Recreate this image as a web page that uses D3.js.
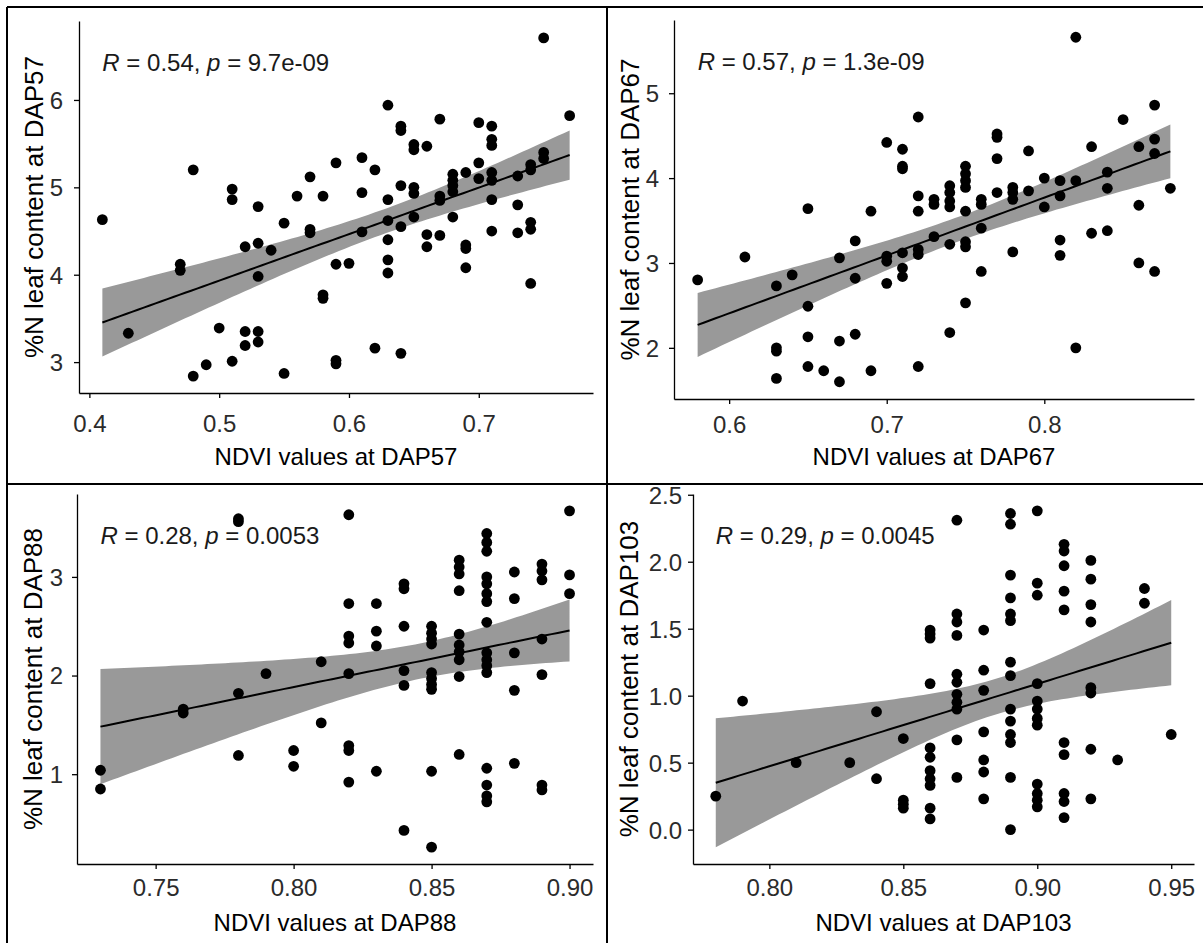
<!DOCTYPE html>
<html>
<head>
<meta charset="utf-8">
<title>%N leaf content vs NDVI</title>
<script src="https://d3js.org/d3.v7.min.js"></script>
<style>
body { margin: 0; background: #fff; }
svg { display: block; font-family: 'Liberation Sans', Arial, sans-serif; }
</style>
</head>
<body>
<svg id="chart" width="1203" height="943"></svg>
<script>
// NDVI levels (x) and the %N values read at each level (y), one set per date
var ndvi57 = [0.41, 0.43, 0.47, 0.48, 0.49, 0.50, 0.51, 0.52, 0.53, 0.54, 0.55, 0.56, 0.57, 0.58, 0.59, 0.60,
    0.61, 0.62, 0.63, 0.64, 0.65, 0.66, 0.67, 0.68, 0.69, 0.70, 0.71, 0.73, 0.74, 0.75, 0.77];
var leafN57 = [[4.63], [3.33], [4.12, 4.05], [5.20, 2.84], [2.97], [3.39], [4.98, 4.86, 3.01], [4.32, 3.35, 3.19],
    [4.78, 4.36, 3.98, 3.35, 3.23], [4.28], [4.59, 2.87], [4.90], [5.12, 4.52, 4.48], [4.90, 3.77, 3.73],
    [5.28, 4.12, 3.02, 2.98], [4.13], [5.34, 4.94, 4.49], [5.20, 3.16], [5.94, 4.86, 4.62, 4.40, 4.17, 4.02],
    [5.70, 5.65, 5.02, 4.55, 3.10], [5.49, 5.43, 5.00, 4.93, 4.66], [5.47, 4.46, 4.32], [5.78, 4.90, 4.85, 4.45],
    [5.15, 5.08, 5.02, 4.95, 4.66], [5.17, 4.34, 4.30, 4.08], [5.74, 5.28, 5.10],
    [5.70, 5.55, 5.48, 5.17, 5.08, 4.86, 4.50], [5.13, 4.80, 4.48], [5.26, 5.20, 4.60, 4.52, 3.90],
    [6.71, 5.40, 5.33], [5.82]];

var ndvi67 = [0.58, 0.61, 0.63, 0.64, 0.65, 0.66, 0.67, 0.68, 0.69, 0.70, 0.71, 0.72, 0.73, 0.74, 0.75, 0.76,
    0.77, 0.78, 0.79, 0.80, 0.81, 0.82, 0.83, 0.84, 0.85, 0.86, 0.87, 0.88];
var leafN67 = [[2.80], [3.07], [2.73, 2.00, 1.96, 1.64], [2.86], [3.64, 2.49, 2.13, 1.78], [1.73],
    [3.06, 2.08, 1.60], [3.26, 2.82, 2.16], [3.61, 1.73], [4.42, 3.08, 3.02, 2.76],
    [4.34, 4.14, 4.11, 3.12, 2.94, 2.84], [4.72, 3.79, 3.61, 3.16, 3.10, 1.78], [3.75, 3.69, 3.31],
    [3.91, 3.83, 3.73, 3.66, 3.22, 2.18], [4.14, 4.05, 3.97, 3.89, 3.61, 3.25, 3.19, 2.53],
    [3.75, 3.69, 3.41, 2.90], [4.52, 4.48, 4.23, 3.83], [3.89, 3.83, 3.75, 3.13], [4.32, 3.85], [4.00, 3.66],
    [3.97, 3.79, 3.27, 3.09], [5.66, 3.97, 2.00], [4.37, 3.35], [4.07, 3.88, 3.38], [4.69], [4.37, 3.68, 3.00],
    [4.86, 4.46, 4.29, 2.90], [3.88]];

var ndvi88 = [0.73, 0.76, 0.78, 0.79, 0.80, 0.81, 0.82, 0.83, 0.84, 0.85, 0.86, 0.87, 0.88, 0.89, 0.90];
var leafN88 = [[1.04, 0.85], [1.66, 1.62], [3.59, 3.56, 1.82, 1.19], [2.02], [1.24, 1.08], [2.14, 1.52],
    [3.63, 2.73, 2.40, 2.33, 2.02, 1.29, 1.24, 0.92], [2.73, 2.45, 2.30, 1.03], [2.93, 2.88, 2.50, 2.05, 1.90, 0.43],
    [2.50, 2.43, 2.37, 2.32, 2.03, 1.97, 1.91, 1.86, 1.03, 0.26],
    [3.17, 3.10, 3.03, 2.86, 2.42, 2.31, 2.24, 2.16, 1.99, 1.20],
    [3.44, 3.35, 3.26, 3.00, 2.93, 2.83, 2.75, 2.54, 2.23, 2.16, 2.10, 2.03, 1.06, 0.89, 0.78, 0.72],
    [3.05, 2.78, 2.23, 1.85, 1.11], [3.13, 3.06, 2.97, 2.37, 2.01, 0.89, 0.84], [3.67, 3.02, 2.83]];

var ndvi103 = [0.78, 0.79, 0.81, 0.83, 0.84, 0.85, 0.86, 0.87, 0.88, 0.89, 0.90, 0.91, 0.92, 0.93, 0.94, 0.95];
var leafN103 = [[0.25], [0.96], [0.50], [0.50], [0.88, 0.38], [0.68, 0.22, 0.19, 0.16],
    [1.49, 1.46, 1.43, 1.09, 0.61, 0.54, 0.44, 0.38, 0.33, 0.16, 0.08],
    [2.31, 1.61, 1.55, 1.45, 1.16, 1.10, 1.01, 0.95, 0.90, 0.67, 0.39],
    [1.49, 1.19, 1.04, 0.73, 0.52, 0.43, 0.23],
    [2.36, 2.28, 1.90, 1.73, 1.61, 1.56, 1.25, 1.15, 0.90, 0.81, 0.71, 0.65, 0.39, 0.00],
    [2.38, 1.84, 1.75, 1.09, 0.96, 0.90, 0.83, 0.78, 0.34, 0.27, 0.22, 0.17],
    [2.13, 2.08, 1.97, 1.78, 1.64, 0.65, 0.56, 0.27, 0.21, 0.09],
    [2.01, 1.87, 1.68, 1.55, 1.06, 1.02, 0.60, 0.23], [0.52], [1.80, 1.69], [0.71]];

var dates = ["DAP57", "DAP67", "DAP88", "DAP103"];
var rValues = ["0.54", "0.57", "0.28", "0.29"];
var pValues = ["9.7e-09", "1.3e-09", "0.0053", "0.0045"];
var xTicks = [[0.4, 0.5, 0.6, 0.7], [0.6, 0.7, 0.8], [0.75, 0.80, 0.85, 0.90], [0.80, 0.85, 0.90, 0.95]];
var yTicks = [[3, 4, 5, 6], [2, 3, 4, 5], [1, 2, 3], [0, 0.5, 1, 1.5, 2, 2.5]];
var xFormats = [".1f", ".1f", ".2f", ".2f"];
var yFormats = ["d", "d", "d", ".1f"];

var ndviLevels = [ndvi57, ndvi67, ndvi88, ndvi103];
var leafValues = [leafN57, leafN67, leafN88, leafN103];

// where each plot panel sits on the page
var boxes = [
    {left: 79, right: 593, top: 21, bottom: 393, yTitleX: 43, xTitleY: 465, xLab: 39, yPad: 11},
    {left: 674, right: 1194, top: 20, bottom: 399, yTitleX: 639, xTitleY: 465, xLab: 34, yPad: 10},
    {left: 77, right: 593, top: 494, bottom: 864, yTitleX: 42, xTitleY: 931, xLab: 32, yPad: 9},
    {left: 693, right: 1194, top: 494, bottom: 864, yTitleX: 638, xTitleY: 931, xLab: 32, yPad: 6}
];

var svg = d3.select("#chart");

// lm fit with 95% confidence band, like geom_smooth(method = "lm")
function lmBand(pts, x0, x1) {
    var n = pts.length;
    var mx = d3.mean(pts, function(d) { return d[0]; });
    var my = d3.mean(pts, function(d) { return d[1]; });
    var sxx = d3.sum(pts, function(d) { return (d[0] - mx) * (d[0] - mx); });
    var sxy = d3.sum(pts, function(d) { return (d[0] - mx) * (d[1] - my); });
    var b = sxy / sxx, a = my - b * mx;
    var s = Math.sqrt(d3.sum(pts, function(d) { var e = d[1] - a - b * d[0]; return e * e; }) / (n - 2));
    var t = 1.986;
    return d3.range(80).map(function(i) {
        var x = x0 + (x1 - x0) * i / 79;
        var f = a + b * x;
        var se = s * Math.sqrt(1 / n + (x - mx) * (x - mx) / sxx);
        return {x: x, fit: f, lo: f - t * se, hi: f + t * se};
    });
}

function expand(ext) {
    var pad = (ext[1] - ext[0]) * 0.05;
    return [ext[0] - pad, ext[1] + pad];
}

boxes.forEach(function(b, i) {
    var pts = [];
    ndviLevels[i].forEach(function(xv, j) {
        leafValues[i][j].forEach(function(yv) { pts.push([xv, yv]); });
    });
    var xExt = d3.extent(pts, function(d) { return d[0]; });
    var band = lmBand(pts, xExt[0], xExt[1]);
    var yExt = [
        Math.min(d3.min(pts, function(d) { return d[1]; }), d3.min(band, function(d) { return d.lo; })),
        Math.max(d3.max(pts, function(d) { return d[1]; }), d3.max(band, function(d) { return d.hi; }))
    ];

    var x = d3.scaleLinear().domain(expand(xExt)).range([b.left, b.right]);
    var y = d3.scaleLinear().domain(expand(yExt)).range([b.bottom, b.top]);

    var g = svg.append("g");

    g.append("path")
        .datum(band)
        .attr("fill", "#999999")
        .attr("d", d3.area()
            .x(function(d) { return x(d.x); })
            .y0(function(d) { return y(d.lo); })
            .y1(function(d) { return y(d.hi); }));

    g.selectAll("circle")
        .data(pts)
        .enter()
        .append("circle")
        .attr("cx", function(d) { return x(d[0]); })
        .attr("cy", function(d) { return y(d[1]); })
        .attr("r", 5.4)
        .attr("fill", "#000");

    g.append("path")
        .datum(band)
        .attr("fill", "none")
        .attr("stroke", "#000")
        .attr("stroke-width", 2)
        .attr("d", d3.line()
            .x(function(d) { return x(d.x); })
            .y(function(d) { return y(d.fit); }));

    var xa = g.append("g")
        .attr("transform", "translate(0," + b.bottom + ")")
        .call(d3.axisBottom(x).tickValues(xTicks[i]).tickFormat(d3.format(xFormats[i]))
            .tickSize(5).tickSizeOuter(0));
    xa.selectAll(".tick text").attr("y", b.xLab).attr("dy", 0);

    var ya = g.append("g")
        .attr("transform", "translate(" + b.left + ",0)")
        .call(d3.axisLeft(y).tickValues(yTicks[i]).tickFormat(d3.format(yFormats[i]))
            .tickSize(5).tickSizeOuter(0));
    ya.selectAll(".tick text").attr("x", -(5 + b.yPad)).attr("dy", "0.35em");

    [xa, ya].forEach(function(a) {
        a.attr("font-family", null).attr("font-size", null);
        a.select(".domain").attr("stroke-width", 1.3);
        a.selectAll(".tick line").attr("stroke-width", 1.3);
        a.selectAll(".tick text").attr("font-size", 24).attr("fill", "#2b2b2b");
    });

    g.append("text")
        .attr("x", (b.left + b.right) / 2)
        .attr("y", b.xTitleY)
        .attr("text-anchor", "middle")
        .attr("font-size", 24)
        .text("NDVI values at " + dates[i]);

    g.append("text")
        .attr("transform", "translate(" + b.yTitleX + "," + (b.top + b.bottom) / 2 + ") rotate(-90)")
        .attr("text-anchor", "middle")
        .attr("font-size", 26)
        .text("%N leaf content at " + dates[i]);

    var note = g.append("text")
        .attr("x", x(xExt[0]))
        .attr("y", b.top + 50)
        .attr("font-size", 24)
        .attr("fill", "#1a1a1a");
    note.append("tspan").attr("font-style", "italic").text("R");
    note.append("tspan").text(" = " + rValues[i] + ", ");
    note.append("tspan").attr("font-style", "italic").text("p");
    note.append("tspan").text(" = " + pValues[i]);
});

// cell borders of the figure
var frame = svg.append("g").attr("stroke", "#000").attr("stroke-width", 2);
frame.append("line").attr("x1", 7).attr("x2", 1203).attr("y1", 7).attr("y2", 7);
frame.append("line").attr("x1", 7).attr("x2", 7).attr("y1", 7).attr("y2", 943);
frame.append("line").attr("x1", 607).attr("x2", 607).attr("y1", 7).attr("y2", 943);
frame.append("line").attr("x1", 7).attr("x2", 1203).attr("y1", 484).attr("y2", 484);
</script>
</body>
</html>
